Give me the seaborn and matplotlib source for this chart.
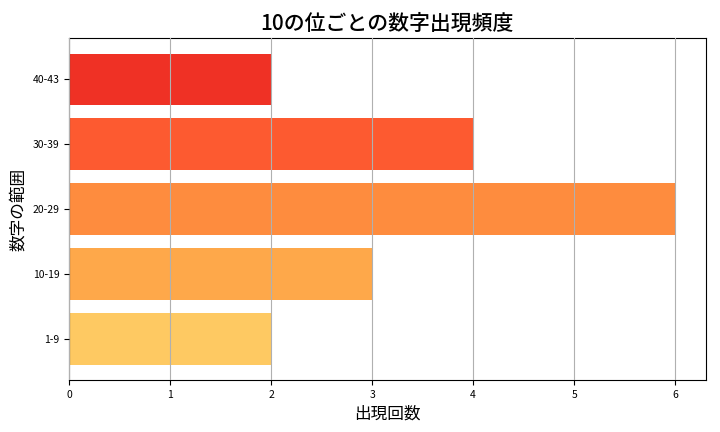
import matplotlib
matplotlib.use("Agg")
import matplotlib.pyplot as plt
import seaborn as sns
import pandas as pd

plt.rcParams["font.family"] = ["Noto Sans CJK JP", "DejaVu Sans"]

categories = ["40-43", "30-39", "20-29", "10-19", "1-9"]
counts = [2, 4, 6, 3, 2]
colors = ["#ef3125", "#fd5a30", "#fe8c3e", "#fea84a", "#fec962"]

df = pd.DataFrame({"range": categories, "count": counts})

fig, ax = plt.subplots(figsize=(7.2, 4.32), dpi=100)
sns.barplot(data=df, y="range", x="count", hue="range", palette=colors,
            order=categories, legend=False, ax=ax, width=0.8, saturation=1)
ax.set_xlim(0, 6.3)
ax.set_ylim(4.64, -0.64)
ax.grid(axis="x", color="#b0b0b0", linewidth=0.8)
ax.set_axisbelow(False)
for b in ax.patches:
    b.set_zorder(1)
ax.set_title("10の位ごとの数字出現頻度", fontsize=15, fontweight="medium")
ax.set_xlabel("出現回数", fontsize=12)
ax.set_ylabel("数字の範囲", fontsize=12)
ax.tick_params(labelsize=7.5)
plt.subplots_adjust(left=0.096, right=0.98, top=0.912, bottom=0.12)
fig.savefig("out.png", dpi=100)
